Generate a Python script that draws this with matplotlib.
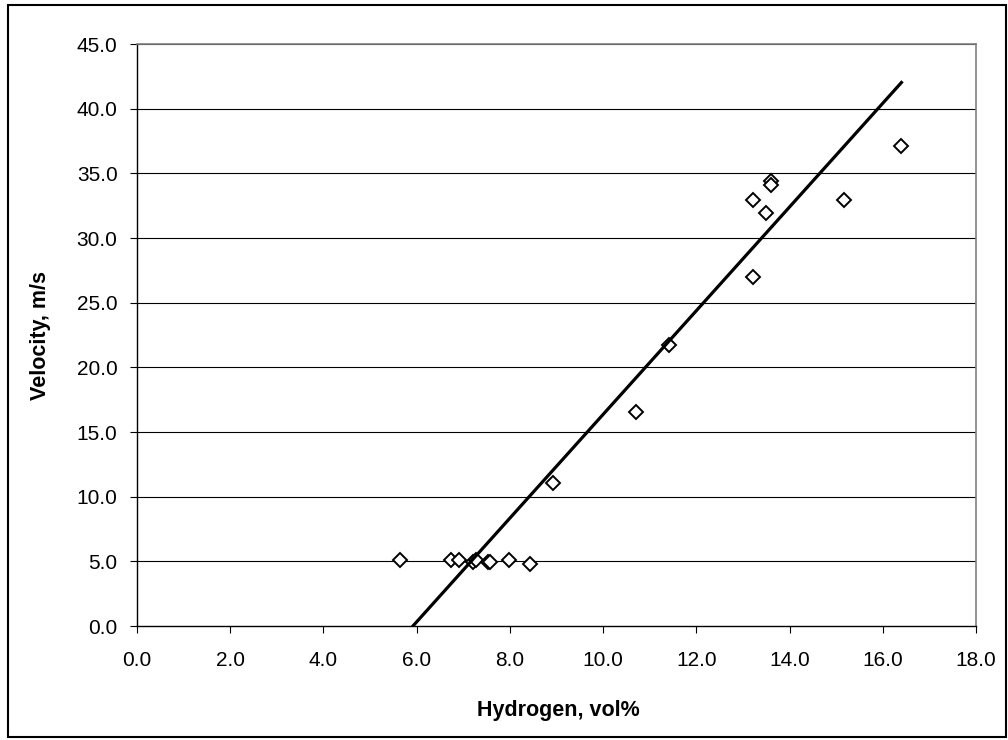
import numpy as np
import matplotlib
matplotlib.use("Agg")
import matplotlib.pyplot as plt
from matplotlib.patches import Rectangle

plt.rcParams["font.family"] = ["Liberation Sans", "DejaVu Sans"]

hydrogen = [5.64, 6.73, 6.90, 7.20, 7.27, 7.54, 7.57, 7.98, 8.43, 8.93,
            10.71, 11.42, 13.21, 13.21, 13.49, 13.60, 13.60, 15.17, 16.40]
velocity = [5.08, 5.08, 5.08, 4.93, 5.08, 4.93, 4.93, 5.08, 4.82, 11.08,
            16.55, 21.73, 32.95, 27.00, 31.97, 34.44, 34.10, 32.95, 37.10]

# Linear trendline as drawn in the chart
trend_slope = 4.01
trend_intercept = -23.74

x_ticks = np.arange(0, 18.1, 2.0)
y_ticks = np.arange(0, 45.1, 5.0)

fig = plt.figure(figsize=(10.08, 7.40), dpi=100)
ax = fig.add_axes([137 / 1008, 1 - 626 / 740, (976 - 137) / 1008, (626 - 44) / 740])

# Horizontal gridlines
for yv in y_ticks[1:]:
    ax.axhline(yv, color="black", lw=0.8, zorder=1)

# Data points
ax.plot(hydrogen, velocity, linestyle="none", marker="D", markersize=7.5,
        markerfacecolor="white", markeredgecolor="black", markeredgewidth=1.4, zorder=3)

# Trendline
tx = np.array([min(hydrogen), max(hydrogen)])
ax.plot(tx, trend_slope * tx + trend_intercept, color="black", lw=2.3, zorder=4)

ax.set_xlim(0, 18)
ax.set_ylim(0, 45)
ax.set_xticks(x_ticks)
ax.set_yticks(y_ticks)
ax.set_xticklabels(["%.1f" % v for v in x_ticks])
ax.set_yticklabels(["%.1f" % v for v in y_ticks])
ax.tick_params(axis="both", direction="out", length=5, width=0.8, labelsize=15, colors="black")
ax.tick_params(axis="x", pad=13)
ax.tick_params(axis="y", pad=9)

for side in ["top", "right"]:
    ax.spines[side].set_color("#808080")
    ax.spines[side].set_linewidth(1.2)
for side in ["left", "bottom"]:
    ax.spines[side].set_color("black")
    ax.spines[side].set_linewidth(1.0)

ax.set_xlabel("Hydrogen, vol%", fontsize=15.5, fontweight="bold")
ax.xaxis.set_label_coords(0.502, -0.127)
ax.set_ylabel("Velocity, m/s", fontsize=15.5, fontweight="bold")
ax.yaxis.set_label_coords(-0.103, 0.5)

# Outer chart border
fig.patches.append(Rectangle((8 / 1008, 3 / 740), 998 / 1008, 732 / 740,
                             transform=fig.transFigure, fill=False,
                             edgecolor="black", lw=1.5))

fig.savefig("out.png", dpi=100)
